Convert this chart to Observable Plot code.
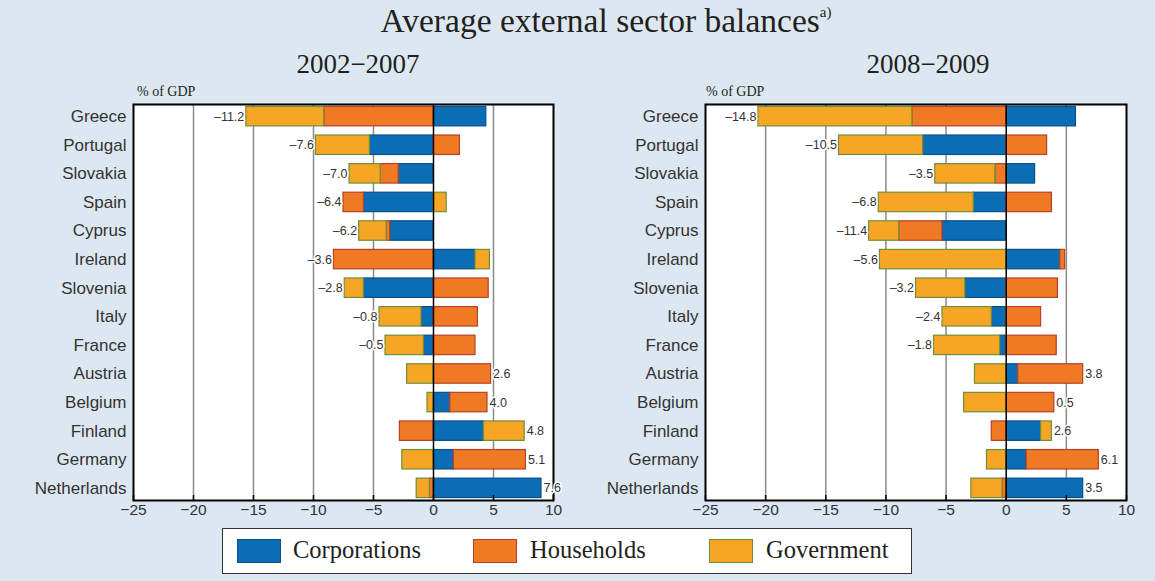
<!DOCTYPE html>
<html>
<head>
<meta charset="utf-8">
<script src="https://cdn.jsdelivr.net/npm/d3@7"></script>
<script src="https://cdn.jsdelivr.net/npm/@observablehq/plot@0.6"></script>
<style>
  html, body { margin: 0; padding: 0; }
  body { width: 1155px; height: 581px; background: #dde7f1; position: relative; overflow: hidden; color: #231f20; }
  .serif { font-family: "Liberation Serif", "Times New Roman", serif; position: absolute; white-space: nowrap; }
  #title { left: 0; width: 1212px; top: 2px; text-align: center; font-size: 33.5px; }
  #title sup { font-size: 15px; vertical-align: 15px; line-height: 0; }
  .sub { font-size: 27px; top: 49px; transform: translateX(-50%); }
  .unit { font-size: 14px; top: 84px; }
  .panel { position: absolute; top: 80px; }
  #legend { position: absolute; left: 222px; top: 528px; width: 690px; height: 46px; border: 1.5px solid #333; background: #fff; box-sizing: border-box; }
  .sw { position: absolute; top: 10px; width: 44px; height: 24px; box-sizing: border-box; border: 1.5px solid; }
  .lt { position: absolute; top: 7px; font-family: "Liberation Serif", "Times New Roman", serif; font-size: 24.5px; }
</style>
</head>
<body>
<div id="title" class="serif">Average external sector balances<sup>a)</sup></div>
<div class="serif sub" style="left:358px">2002−2007</div>
<div class="serif sub" style="left:928px">2008−2009</div>
<div class="serif unit" style="left:137px">% of GDP</div>
<div class="serif unit" style="left:706px">% of GDP</div>
<div id="left" class="panel" style="left:0px"></div>
<div id="right" class="panel" style="left:577px"></div>
<div id="legend"></div>
<script>
// ---- data ----
const countries = ["Greece","Portugal","Slovakia","Spain","Cyprus","Ireland","Slovenia","Italy","France","Austria","Belgium","Finland","Germany","Netherlands"];
const sectors = ["Corporations","Households","Government"];

// 2002–2007
const corp0207 = [4.4, -5.3, -2.9, -5.8, -3.6, 3.5, -5.8, -1.0, -0.8, 0, 1.4, 4.2, 1.7, 9.0];
const hh0207   = [-9.1, 2.2, -1.5, -1.7, -0.3, -8.3, 4.6, 3.7, 3.5, 4.8, 3.1, -2.8, 6.0, -0.3];
const gov0207  = [-6.5, -4.5, -2.6, 1.1, -2.3, 1.2, -1.6, -3.5, -3.2, -2.2, -0.5, 3.4, -2.6, -1.1];
const total0207 = [-11.2, -7.6, -7.0, -6.4, -6.2, -3.6, -2.8, -0.8, -0.5, 2.6, 4.0, 4.8, 5.1, 7.6];

// 2008–2009
const corp0809 = [5.8, -6.9, 2.4, -2.7, -5.3, 4.5, -3.4, -1.2, -0.5, 1.0, 0, 2.9, 1.7, 6.4];
const hh0809   = [-7.8, 3.4, -0.9, 3.8, -3.6, 0.4, 4.3, 2.9, 4.2, 5.4, 4.0, -1.2, 6.0, -0.3];
const gov0809  = [-12.8, -7.0, -5.0, -7.9, -2.5, -10.5, -4.1, -4.1, -5.5, -2.6, -3.5, 0.9, -1.6, -2.6];
const total0809 = [-14.8, -10.5, -3.5, -6.8, -11.4, -5.6, -3.2, -2.4, -1.8, 3.8, 0.5, 2.6, 6.1, 3.5];

const xTicks = [-25, -20, -15, -10, -5, 0, 5, 10];
const gridValues = [-20, -15, -10, -5, 5];

const fillColors = {Corporations: "#0b6db4", Households: "#f07a23", Government: "#f6a624"};
const strokeColors = {Corporations: "#0a4f8c", Households: "#b5402c", Government: "#6e8f3a"};

const fmt = v => (v < 0 ? "–" + Math.abs(v).toFixed(1) : v.toFixed(1));
const tickFmt = v => (v < 0 ? "–" + Math.abs(v) : String(v));

function panel(corp, hh, gov, total, width, mLeft, mRight) {
  const series = [corp, hh, gov];
  const rows = [];
  countries.forEach((c, i) => {
    sectors.forEach((s, j) => {
      const v = series[j][i];
      if (v !== 0) rows.push({country: c, sector: s, value: v});
    });
  });
  const labels = countries.map((c, i) => {
    const pos = d3.sum(series, s => Math.max(0, s[i]));
    const neg = d3.sum(series, s => Math.min(0, s[i]));
    return {country: c, total: total[i], x: total[i] < 0 ? neg : pos};
  });
  return Plot.plot({
    width: width,
    height: 445,
    marginLeft: mLeft,
    marginRight: mRight,
    marginTop: 24,
    marginBottom: 25,
    style: {background: "transparent", fontFamily: "'Liberation Sans', Arial, sans-serif", overflow: "visible"},
    x: {domain: [-25, 10], ticks: xTicks, tickFormat: tickFmt},
    y: {domain: countries, paddingInner: 0.32, paddingOuter: 0.085, round: false},
    color: {type: "identity"},
    marks: [
      Plot.frame({fill: "white", stroke: "none"}),
      Plot.ruleX(gridValues, {stroke: "#8a8a8a", strokeWidth: 1.5}),
      Plot.barX(rows, Plot.stackX({
        x: "value", y: "country",
        fill: d => fillColors[d.sector],
        stroke: d => strokeColors[d.sector],
        strokeWidth: 1.2
      })),
      Plot.ruleX([0], {stroke: "black", strokeWidth: 1.5}),
      Plot.frame({stroke: "black", strokeWidth: 2}),
      Plot.text(labels.filter(d => d.total < 0), {
        x: "x", y: "country", text: d => fmt(d.total),
        textAnchor: "end", dx: -2, fill: "#333", fontSize: 12.5,
        stroke: "white", strokeWidth: 3
      }),
      Plot.text(labels.filter(d => d.total >= 0), {
        x: "x", y: "country", text: d => fmt(d.total),
        textAnchor: "start", dx: 2, fill: "#333", fontSize: 12.5,
        stroke: "white", strokeWidth: 3
      }),
      Plot.axisY({tickSize: 0, tickPadding: 7, fontSize: 17, fill: "#333", label: null}),
      Plot.axisX({anchor: "bottom", tickSize: 5, dy: -5, stroke: "black", strokeWidth: 1.5, tickFormat: () => "", label: null}),
      Plot.axisX({anchor: "bottom", tickSize: 0, tickPadding: 3, fontSize: 15.5, fill: "#2f3142", label: null})
    ]
  });
}

document.getElementById("left").append(panel(corp0207, hh0207, gov0207, total0207, 577, 133, 24));
document.getElementById("right").append(panel(corp0809, hh0809, gov0809, total0809, 578, 128, 29));

// legend
const legend = document.getElementById("legend");
const legendPos = [{sw: 14, tx: 70}, {sw: 250, tx: 307}, {sw: 486, tx: 543}];
sectors.forEach((s, i) => {
  const sw = document.createElement("div");
  sw.className = "sw";
  sw.style.left = legendPos[i].sw + "px";
  sw.style.background = fillColors[s];
  sw.style.borderColor = strokeColors[s];
  legend.append(sw);
  const t = document.createElement("div");
  t.className = "lt";
  t.style.left = legendPos[i].tx + "px";
  t.textContent = s;
  legend.append(t);
});
</script>
</body>
</html>
